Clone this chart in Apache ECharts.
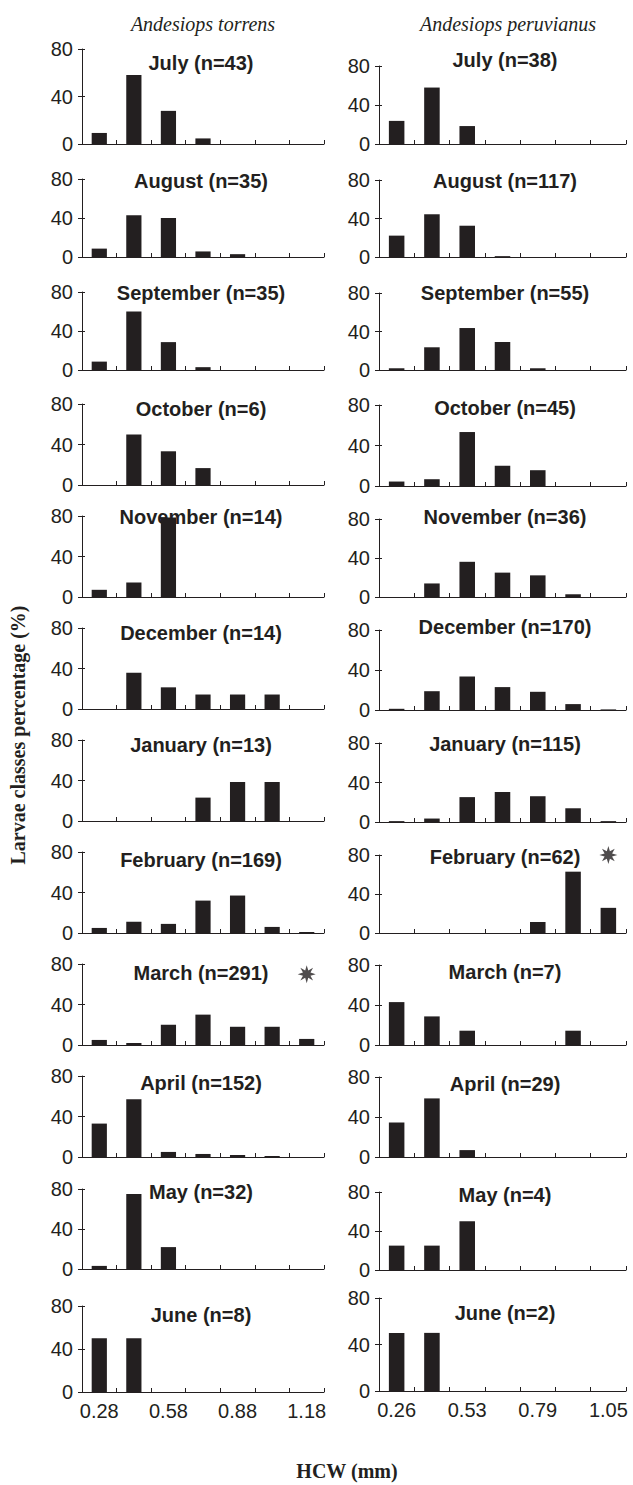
<!DOCTYPE html>
<html>
<head>
<meta charset="utf-8">
<script src="https://cdn.jsdelivr.net/npm/echarts@6/dist/echarts.min.js"></script>
<style>
html,body{margin:0;padding:0;background:#fff;}
#chart{width:633px;height:1485px;}
</style>
</head>
<body>
<div id="chart"></div>
<script>
// ---------- DATA ----------
const speciesNames = ['Andesiops torrens', 'Andesiops peruvianus'];
const months = ['July','August','September','October','November','December','January','February','March','April','May','June'];
const catsTorrens = ['0.28','0.43','0.58','0.73','0.88','1.03','1.18'];
const catsPeruvianus = ['0.26','0.39','0.53','0.66','0.79','0.92','1.05'];
const nTorrens = [43,35,35,6,14,14,13,169,291,152,32,8];
const nPeruvianus = [38,117,55,45,36,170,115,62,7,29,4,2];
// percentage of larvae per HCW class (%), one row per month
const pctTorrens = [
  [9.3,58.1,27.9,4.7,0,0,0],
  [8.6,42.9,40.0,5.7,2.9,0,0],
  [8.6,60.0,28.6,2.9,0,0,0],
  [0,50.0,33.3,16.7,0,0,0],
  [7.1,14.3,78.6,0,0,0,0],
  [0,35.7,21.4,14.3,14.3,14.3,0],
  [0,0,0,23.1,38.5,38.5,0],
  [5,11,9,32,37,6,1],
  [5,2,20,30,18,18,6],
  [33,57,5,3,2,1,0],
  [3.1,75.0,21.9,0,0,0,0],
  [50,50,0,0,0,0,0]
];
const pctPeruvianus = [
  [23.7,57.9,18.4,0,0,0,0],
  [22.2,44.4,32.5,0.9,0,0,0],
  [1.8,23.6,43.6,29.1,1.8,0,0],
  [4.4,6.7,53.3,20.0,15.6,0,0],
  [0,13.9,36.1,25.0,22.2,2.8,0],
  [1.2,18.8,33.5,22.9,18.2,5.9,0.6],
  [0.9,3.5,25.2,30.4,26.1,13.9,0.9],
  [0,0,0,0,11.3,62.9,25.8],
  [42.9,28.6,14.3,0,0,14.3,0],
  [34.5,58.6,6.9,0,0,0,0],
  [25,25,50,0,0,0,0],
  [50,50,0,0,0,0,0]
];
// asterisk marks: [species index, month index, class, y value]
const starMarks = [[1,7,'1.05',80],[0,8,'1.18',70]];
const yTicks = [0,40,80];
const xLabel = 'HCW (mm)';
const yLabel = 'Larvae classes percentage (%)';

// ---------- LAYOUT (pixels) ----------
const colLeft = [82, 379];
const colWidth = [242, 247];
const topPx = [
  [49,179,292,404,516,628,740,852,964,1076,1189,1306],
  [66,180,293,405,519,630,743,855,965,1077,1192,1298]
];
const botPx = [
  [144,257,370,485,597,709,821,933,1045,1157,1269,1392],
  [144,257,370,486,597,710,822,933,1045,1157,1270,1391]
];
const titleY = [
  [63,181,293,409,517,633,745,860,973,1083,1192,1315],
  [60,181,293,408,517,627,744,857,972,1084,1195,1313]
];
const titleX = [201, 505];
const INK = '#231f20';

function starPath(){
  const pts=[]; const n=8;
  for(let i=0;i<2*n;i++){
    const r = i%2===0 ? 1 : 0.45;
    const a = Math.PI*i/n - Math.PI/2;
    pts.push((r*Math.cos(a)).toFixed(3)+','+(r*Math.sin(a)).toFixed(3));
  }
  return 'path://M'+pts.join('L')+'Z';
}

const grids=[], xAxes=[], yAxes=[], series=[], graphics=[];
const allPct=[pctTorrens,pctPeruvianus];
const allCats=[catsTorrens,catsPeruvianus];
const allN=[nTorrens,nPeruvianus];
let idx=0, yIdx=0;
for(let s=0;s<2;s++){
  for(let m=0;m<12;m++){
    const last = m===11;
    grids.push({left:colLeft[s], width:colWidth[s], top:topPx[s][m], height:botPx[s][m]-topPx[s][m], containLabel:false});
    xAxes.push({type:'category', gridIndex:idx, data:allCats[s], boundaryGap:true,
      axisLine:{show:true,lineStyle:{color:INK,width:1}},
      axisTick:{show:true,inside:true,length:4,alignWithLabel:false,interval:0,lineStyle:{color:INK}},
      axisLabel:{show:last,interval:1,color:INK,fontSize:20,fontFamily:'Liberation Sans, Arial, sans-serif',margin:9},
      splitLine:{show:false}});
    const mainY = yIdx;
    yAxes.push({type:'value', gridIndex:idx, position:'left', min:0, max:80, interval:40,
      axisLine:{show:true,lineStyle:{color:INK,width:1}},
      axisTick:{show:true,inside:false,length:4,lineStyle:{color:INK}},
      axisLabel:{show:true,color:INK,fontSize:20,fontFamily:'Liberation Sans, Arial, sans-serif',margin:9,
        formatter:v=>yTicks.includes(v)?String(v):''},
      splitLine:{show:false}});
    // inner half of the crossing tick marks
    yAxes.push({type:'value', gridIndex:idx, position:'left', offset:0, min:0, max:80, interval:40,
      axisLine:{show:false}, axisLabel:{show:false}, splitLine:{show:false},
      axisTick:{show:true,inside:true,length:3,lineStyle:{color:INK}}});
    yIdx += 2;
    series.push({type:'bar', xAxisIndex:idx, yAxisIndex:mainY, data:allPct[s][m], barWidth:'44%',
      itemStyle:{color:INK}, silent:true, animation:false});
    graphics.push({type:'text', x:titleX[s], y:titleY[s][m],
      style:{text:months[m]+' (n='+allN[s][m]+')', fill:INK, font:'bold 20px "Liberation Sans", Arial, sans-serif', align:'center', verticalAlign:'middle'}});
    starMarks.forEach(st=>{
      if(st[0]===s && st[1]===m){
        series.push({type:'scatter', xAxisIndex:idx, yAxisIndex:mainY, data:[[st[2],st[3]]],
          symbol:starPath(), symbolSize:18, itemStyle:{color:INK}, silent:true, animation:false});
      }
    });
    idx++;
  }
}
graphics.push({type:'text', x:203, y:24, style:{text:speciesNames[0], fill:INK, font:'italic 20px "Liberation Serif", "Times New Roman", serif', align:'center', verticalAlign:'middle'}});
graphics.push({type:'text', x:508, y:24, style:{text:speciesNames[1], fill:INK, font:'italic 20px "Liberation Serif", "Times New Roman", serif', align:'center', verticalAlign:'middle'}});
graphics.push({type:'text', x:347, y:1471, style:{text:xLabel, fill:INK, font:'bold 20px "Liberation Serif", "Times New Roman", serif', align:'center', verticalAlign:'middle'}});
graphics.push({type:'text', x:18, y:735, rotation:Math.PI/2, style:{text:yLabel, fill:INK, font:'bold 20px "Liberation Serif", "Times New Roman", serif', align:'center', verticalAlign:'middle'}});

const chart = echarts.init(document.getElementById('chart'), null, {renderer:'svg'});
chart.setOption({animation:false, backgroundColor:'#fff', grid:grids, xAxis:xAxes, yAxis:yAxes, series:series, graphic:graphics});
</script>
</body>
</html>
